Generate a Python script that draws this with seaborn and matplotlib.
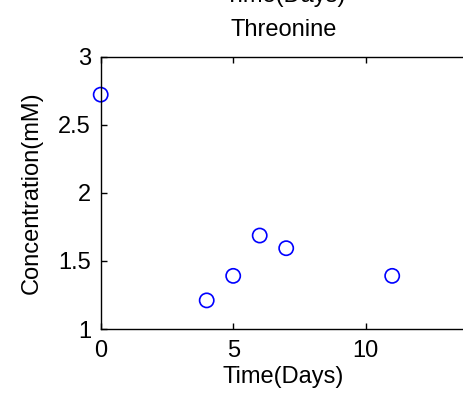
import matplotlib
matplotlib.use("Agg")
import matplotlib.pyplot as plt
import seaborn as sns
import pandas as pd

days = [0, 4, 5, 6, 7, 11]
concentration = [2.72, 1.21, 1.39, 1.686, 1.593, 1.39]
x_ticks = [0, 5, 10]
y_ticks = [1, 1.5, 2, 2.5, 3]
y_tick_labels = ["1", "1.5", "2", "2.5", "3"]
title = "Threonine"
x_label = "Time(Days)"
y_label = "Concentration(mM)"

sns.set_style("white")
plt.rcParams["font.family"] = ["Liberation Sans", "DejaVu Sans"]
plt.rcParams["text.color"] = "black"
plt.rcParams["axes.labelcolor"] = "black"

W, H = 464, 405
fig = plt.figure(figsize=(W / 100, H / 100), dpi=100)
left, right, top, bottom = 100.7, 466.4, 56.5, 329.0
ax = fig.add_axes([left / W, 1 - bottom / H, (right - left) / W, (bottom - top) / H])

df = pd.DataFrame({"Time": days, "Conc": concentration})
sns.scatterplot(data=df, x="Time", y="Conc", ax=ax, marker="o", s=105,
                facecolors="none", edgecolor="#0000ff", linewidth=1.2, clip_on=False)

ax.set_xlim(0, 13.8)
ax.set_ylim(1, 3)
ax.set_xticks(x_ticks)
ax.set_xticklabels([str(t) for t in x_ticks])
ax.set_yticks(y_ticks)
ax.set_yticklabels(y_tick_labels)
ax.tick_params(direction="in", length=4, width=1, colors="black", labelsize=17,
               top=True, bottom=True, left=True, right=False)
ax.tick_params(axis="x", pad=8)
ax.tick_params(axis="y", pad=7)
for s in ["left", "top", "bottom"]:
    ax.spines[s].set_color("black")
    ax.spines[s].set_linewidth(1.0)
ax.spines["right"].set_visible(False)

ax.set_xlabel(x_label, fontsize=17, labelpad=3, color="black")
ax.set_ylabel(y_label, fontsize=17, labelpad=11, color="black")
ax.set_title(title, fontsize=17, pad=15, color="black")

# partially visible label from the panel above (cut off at the top, as in the reference)
fig.text(285 / W, 1 - 2 / H, x_label, fontsize=17, ha="center", va="baseline", color="black")

fig.savefig("out.png", dpi=100)
